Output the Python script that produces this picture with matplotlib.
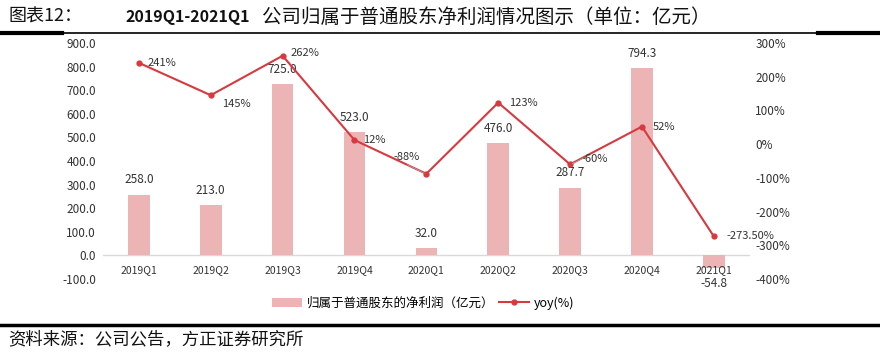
import matplotlib
matplotlib.use("Agg")
import matplotlib.pyplot as plt
from matplotlib.lines import Line2D
from matplotlib.patches import Patch

plt.rcParams['font.family'] = ['Noto Sans CJK SC', 'DejaVu Sans']

categories = ["2019Q1", "2019Q2", "2019Q3", "2019Q4", "2020Q1", "2020Q2", "2020Q3", "2020Q4", "2021Q1"]
profit = [258.0, 213.0, 725.0, 523.0, 32.0, 476.0, 287.7, 794.3, -54.8]
yoy = [241, 145, 262, 12, -88, 123, -60, 52, -273.5]
yoy_labels = ["241%", "145%", "262%", "12%", "-88%", "123%", "-60%", "52%", "-273.50%"]
left_ticks = [-100, 0, 100, 200, 300, 400, 500, 600, 700, 800, 900]
right_ticks = [-400, -300, -200, -100, 0, 100, 200, 300]

BAR = "#ECB4B4"
LINE = "#D7393F"
TXT = "#333333"

fig = plt.figure(figsize=(8.8, 3.55), dpi=100)
ax = fig.add_axes([0.117, 0.214, 0.735, 0.665])
ax2 = ax.twinx()

x = list(range(len(categories)))
ax.bar(x, profit, width=0.3, color=BAR, zorder=2)
ax.set_xlim(-0.5, len(categories) - 0.5)
ax.set_ylim(-100, 900)
ax.set_yticks(left_ticks)
ax.set_yticklabels([f"{v:.1f}" for v in left_ticks], fontsize=8.5, color=TXT)
ax.axhline(0, color="#d9d9d9", lw=1, zorder=1)
ax.set_xticks([])
for s in ax.spines.values():
    s.set_visible(False)
ax.tick_params(axis='y', length=0, pad=5)

for i, (c, v) in enumerate(zip(categories, profit)):
    ax.text(i, -62, c, ha='center', va='center', fontsize=7.5, color=TXT)
    if v >= 0:
        ax.annotate(f"{v:.1f}", (i, v), xytext=(0, 6), textcoords='offset points',
                    ha='center', va='bottom', fontsize=8.5, color=TXT)
    else:
        ax.text(i, -117, f"{v:.1f}", ha='center', va='center', fontsize=8.5, color=TXT)

ax2.plot(x, yoy, color=LINE, lw=1.5, marker='o', markersize=3.5, zorder=3)
ax2.set_ylim(-400, 300)
ax2.set_yticks(right_ticks)
ax2.set_yticklabels([f"{v}%" for v in right_ticks], fontsize=8.5, color=TXT)
for s in ax2.spines.values():
    s.set_visible(False)
ax2.tick_params(axis='y', length=0, pad=4)

offsets = [(6, 0), (8, -6), (6, 2), (6, 0), (-24, 12), (8, 0), (8, 4), (8, 0), (9, 0)]
for i, (v, lab) in enumerate(zip(yoy, yoy_labels)):
    dx, dy = offsets[i]
    ax2.annotate(lab, (i, v), xytext=(dx, dy), textcoords='offset points',
                 ha='left', va='center', fontsize=8, color=TXT)
# leader lines of the moved labels
ax2.annotate("", (x[4] - 0.03, yoy[4] + 2), xytext=(-12, 6), textcoords='offset points',
             arrowprops=dict(arrowstyle='-', color='#a6a6a6', lw=0.6, shrinkA=0, shrinkB=0))
ax2.annotate("", (x[6] + 0.03, yoy[6] + 2), xytext=(8, 4), textcoords='offset points',
             arrowprops=dict(arrowstyle='-', color='#a6a6a6', lw=0.6, shrinkA=0, shrinkB=0))

handles = [Patch(facecolor=BAR, edgecolor='none'),
           Line2D([0], [0], color=LINE, lw=1.5, marker='o', markersize=3.5)]
fig.legend(handles, ["归属于普通股东的净利润（亿元）", "yoy(%)"], loc='center',
           bbox_to_anchor=(0.481, 0.146), ncol=2, frameon=False, fontsize=9,
           handlelength=2.4, columnspacing=0.4, handletextpad=0.4)

# title and rules
ty = 1 - 17 / 355
fig.text(8 / 880, ty, "图表12：", fontsize=13, va='center', ha='left', color="#111111")
fig.text(125 / 880, ty, "2019Q1-2021Q1", fontsize=11.5, va='center', ha='left',
         color="#111111", fontweight='bold')
fig.text(262 / 880, ty, "公司归属于普通股东净利润情况图示（单位：亿元）",
         fontsize=14, va='center', ha='left', color="#111111")
fig.add_artist(Line2D([0, 1], [1 - 33 / 355] * 2, color='black', lw=1.2, transform=fig.transFigure))
fig.add_artist(Line2D([0, 62 / 880], [1 - 33 / 355] * 2, color='black', lw=3, transform=fig.transFigure))
fig.add_artist(Line2D([818 / 880, 1], [1 - 33 / 355] * 2, color='black', lw=3, transform=fig.transFigure))
fig.add_artist(Line2D([0, 1], [1 - 325 / 355] * 2, color='black', lw=2.5, transform=fig.transFigure))
fig.text(8 / 880, 1 - 339 / 355, "资料来源：公司公告，方正证券研究所", fontsize=12.5, va='center', ha='left',
         color="#111111", fontstyle='italic')

fig.savefig("out.png", dpi=100)
